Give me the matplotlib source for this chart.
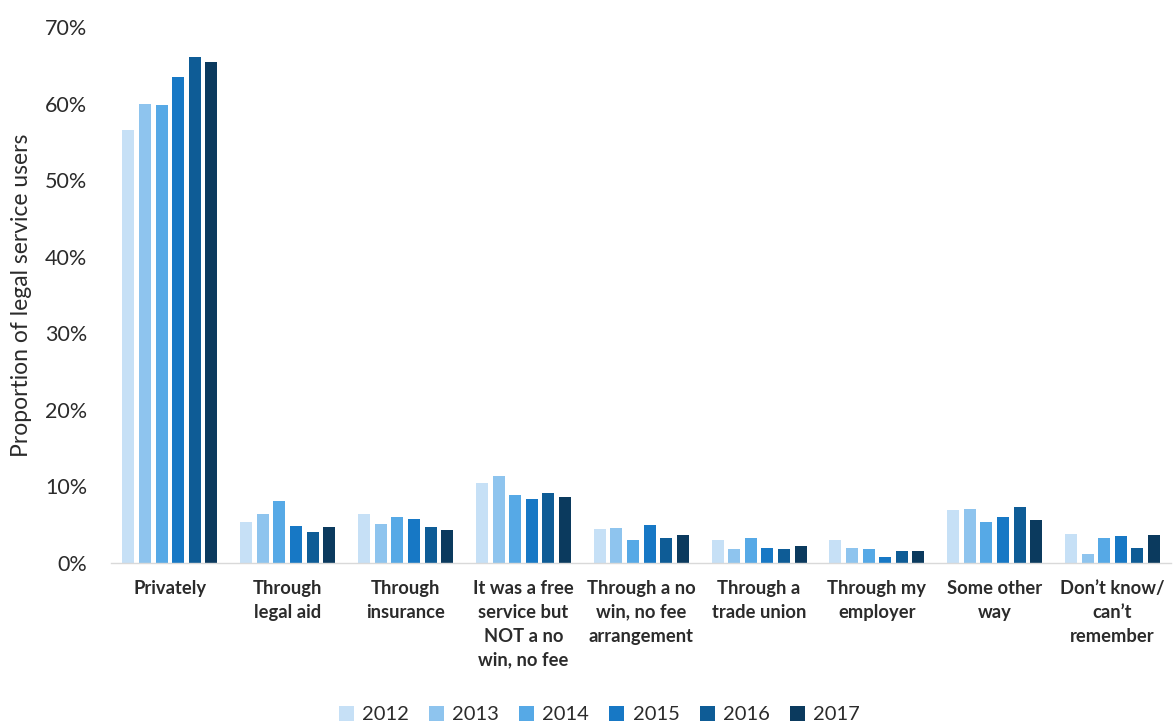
import numpy as np
import matplotlib
matplotlib.use("Agg")
import matplotlib.pyplot as plt
from matplotlib.ticker import FuncFormatter

plt.rcParams['font.family'] = ['Lato', 'DejaVu Sans']

categories = [
    "Privately",
    "Through\nlegal aid",
    "Through\ninsurance",
    "It was a free\nservice but\nNOT a no\nwin, no fee",
    "Through a no\nwin, no fee\narrangement",
    "Through a\ntrade union",
    "Through my\nemployer",
    "Some other\nway",
    "Don\u2019t know/\ncan\u2019t\nremember",
]
years = ["2012", "2013", "2014", "2015", "2016", "2017"]

# share of legal service users (%) by route and survey year
v2012 = [56.5, 5.4, 6.4, 10.4, 4.4, 3.0, 3.0, 6.9, 3.8]
v2013 = [60.0, 6.4, 5.1, 11.4, 4.6, 1.8, 2.0, 7.1, 1.2]
v2014 = [59.8, 8.1, 6.0, 8.9, 3.0, 3.3, 1.8, 5.4, 3.3]
v2015 = [63.5, 4.8, 5.8, 8.4, 4.9, 2.0, 0.8, 6.0, 3.5]
v2016 = [66.1, 4.0, 4.7, 9.2, 3.3, 1.8, 1.5, 7.3, 2.0]
v2017 = [65.4, 4.7, 4.3, 8.6, 3.6, 2.2, 1.6, 5.6, 3.6]
series = [v2012, v2013, v2014, v2015, v2016, v2017]

colors = ["#C6E0F6", "#8EC4EE", "#56A9E6", "#1778C5", "#0E5C96", "#0B3A5E"]
text_color = "#2B2B2B"

fig = plt.figure(figsize=(11.75, 7.24), dpi=100)
ax = fig.add_axes([0.0945, 0.2224, 0.9025, 0.7403])

x = np.arange(len(categories))
slot = 0.141
bw = 0.102
for i, (yr, vals) in enumerate(zip(years, series)):
    ax.bar(x + (i - 2.5) * slot, vals, width=bw, color=colors[i], label=yr)

ax.set_xlim(-0.5, len(categories) - 0.5)
ax.set_ylim(0, 70)
ax.set_yticks(np.arange(0, 71, 10))
ax.yaxis.set_major_formatter(FuncFormatter(lambda v, p: f"{v:.0f}%"))
ax.tick_params(axis='y', length=0, labelsize=15.5, colors=text_color, pad=17)
ax.set_xticks(x)
ax.set_xticklabels(categories, fontsize=13.2, fontweight='bold', color=text_color,
                   linespacing=1.5, va='top')
ax.tick_params(axis='x', length=0, pad=12)

for s in ["top", "right", "left"]:
    ax.spines[s].set_visible(False)
ax.spines["bottom"].set_color("#D9D9D9")
ax.spines["bottom"].set_linewidth(1.0)

ax.set_ylabel("Proportion of legal service users", fontsize=16.5, color=text_color)
ax.yaxis.set_label_coords(-0.075, 0.5)

fig.legend(loc="lower center", bbox_to_anchor=(0.51, -0.024), ncol=6, frameon=False,
           fontsize=14.5, handlelength=0.75, handleheight=0.75, handletextpad=0.4,
           columnspacing=1.0, labelcolor=text_color)

fig.savefig("out.png", dpi=100, facecolor="white")
